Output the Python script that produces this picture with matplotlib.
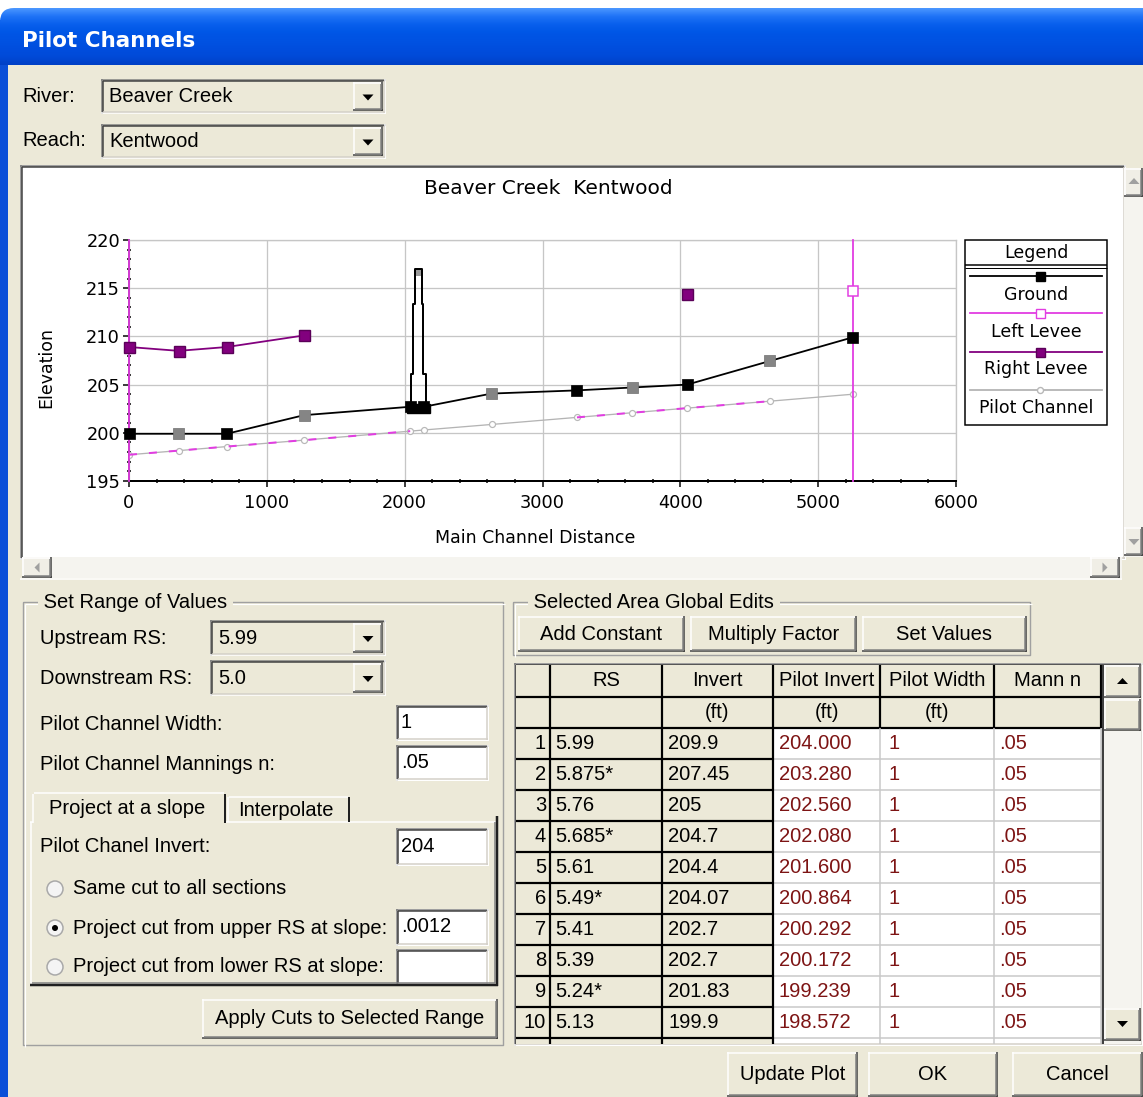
import numpy as np
import matplotlib
matplotlib.use("Agg")
import matplotlib.pyplot as plt
from matplotlib.patches import Rectangle, Polygon, Circle, FancyBboxPatch
from matplotlib.ticker import MultipleLocator

# ---------------- data ----------------
rs_names = ["5.99", "5.875*", "5.76", "5.685*", "5.61", "5.49*", "5.41", "5.39",
            "5.24*", "5.13", "5.06*", "5.0"]
main_channel_distance = [5250, 4650, 4050, 3650, 3250, 2630, 2140, 2040, 1270, 710, 360, 0]
invert_ft = [209.9, 207.45, 205.0, 204.7, 204.4, 204.07, 202.7, 202.7, 201.83, 199.9, 199.9, 199.9]
invert_text = ["209.9", "207.45", "205", "204.7", "204.4", "204.07", "202.7", "202.7",
               "201.83", "199.9", "199.9", "199.9"]
pilot_invert_ft = [204.000, 203.280, 202.560, 202.080, 201.600, 200.864, 200.292, 200.172,
                   199.239, 198.572, 198.152, 197.720]
pilot_width_ft = ["1", "1", "1", "1", "1", "1", "1", "1", "1", "1", "1", "1"]
mann_n = [".05", ".05", ".05", ".05", ".05", ".05", ".05", ".05", ".05", ".05", ".05", ".05"]
nan = np.nan
right_levee = [nan, nan, 214.4, nan, nan, nan, nan, nan, 210.1, 208.9, 208.5, 208.9]
left_levee = [214.7, nan, nan, nan, nan, nan, nan, nan, nan, nan, nan, nan]
left_levee_stations = [0, 5250]
pilot_dash_ranges = [(0, 2040), (3250, 4650)]
bridge_block_x = [2020, 2181]
bridge_block_y = [202.1, 203.0]
bridge_x = [2043, 2043, 2060, 2060, 2077, 2077, 2125, 2125, 2133, 2133, 2152, 2152]
bridge_y = [203.0, 206.1, 206.1, 213.4, 213.4, 217.0, 217.0, 213.4, 213.4, 206.1, 206.1, 203.0]
bridge_cap_y = [216.3, 217.0]
x_ticks = [0, 1000, 2000, 3000, 4000, 5000, 6000]
y_ticks = [195, 200, 205, 210, 215, 220]
table_headers = ["RS", "Invert", "Pilot Invert", "Pilot Width", "Mann n"]
table_units = ["", "(ft)", "(ft)", "(ft)", ""]
legend_names = ["Ground", "Left Levee", "Right Levee", "Pilot Channel"]

# ---------------- figure / canvas ----------------
W, H = 1143, 1097
FACE = "#ECE9D8"
FS = 14.5
fig = plt.figure(figsize=(W / 100, H / 100), dpi=100, facecolor="white")
bg = fig.add_axes([0, 0, 1, 1])
bg.set_xlim(0, W)
bg.set_ylim(H, 0)
bg.axis("off")


def px(v):
    return v * 0.72


def rect(x0, y0, x1, y1, fc, ec="none", lw=0, z=1):
    bg.add_patch(Rectangle((x0, y0), x1 - x0, y1 - y0, facecolor=fc, edgecolor=ec,
                           linewidth=px(lw), zorder=z))


def seg(xs, ys, c, lw=1.0, z=3):
    bg.plot(xs, ys, color=c, lw=px(lw), zorder=z, solid_capstyle="butt")


def sunken(x0, y0, x1, y1, fc="white", z=2):
    rect(x0, y0, x1, y1, fc, z=z)
    seg([x0, x1], [y0 + 0.75, y0 + 0.75], "#808080", 1.5, z + .1)
    seg([x0 + 0.75, x0 + 0.75], [y0, y1], "#808080", 1.5, z + .1)
    seg([x0 + 1.5, x1 - 1.5], [y0 + 2.25, y0 + 2.25], "#404040", 1.5, z + .1)
    seg([x0 + 2.25, x0 + 2.25], [y0 + 1.5, y1 - 1.5], "#404040", 1.5, z + .1)
    seg([x0, x1], [y1 - 0.75, y1 - 0.75], "#FFFFFF", 1.5, z + .1)
    seg([x1 - 0.75, x1 - 0.75], [y0, y1], "#FFFFFF", 1.5, z + .1)
    seg([x0 + 1.5, x1 - 1.5], [y1 - 2.25, y1 - 2.25], "#D4D0C8", 1.5, z + .1)
    seg([x1 - 2.25, x1 - 2.25], [y0 + 1.5, y1 - 1.5], "#D4D0C8", 1.5, z + .1)


def raised(x0, y0, x1, y1, fc=FACE, z=2):
    rect(x0, y0, x1, y1, fc, z=z)
    seg([x0, x1], [y0 + 0.75, y0 + 0.75], "#FFFFFF", 1.5, z + .1)
    seg([x0 + 0.75, x0 + 0.75], [y0, y1], "#FFFFFF", 1.5, z + .1)
    seg([x0, x1], [y1 - 0.75, y1 - 0.75], "#404040", 1.5, z + .1)
    seg([x1 - 0.75, x1 - 0.75], [y0, y1], "#404040", 1.5, z + .1)
    seg([x0 + 1.5, x1 - 1.5], [y1 - 2.25, y1 - 2.25], "#808080", 1.5, z + .1)
    seg([x1 - 2.25, x1 - 2.25], [y0 + 1.5, y1 - 1.5], "#808080", 1.5, z + .1)


def label(x, y, s, size=FS, ha="left", color="#000000", z=6, family="Liberation Sans", **kw):
    return bg.text(x, y, s, fontsize=size, ha=ha, va="center", color=color, family=family,
                   zorder=z, **kw)


def tri(cx, cy, up=False, w=11, h=6, c="black", z=6):
    if up:
        pts = [(cx - w / 2, cy + h / 2), (cx + w / 2, cy + h / 2), (cx, cy - h / 2)]
    else:
        pts = [(cx - w / 2, cy - h / 2), (cx + w / 2, cy - h / 2), (cx, cy + h / 2)]
    bg.add_patch(Polygon(pts, closed=True, facecolor=c, edgecolor="none", zorder=z))


def tri_lr(cx, cy, right=True, w=5, h=10, c="black", z=6):
    if right:
        pts = [(cx - w / 2, cy - h / 2), (cx - w / 2, cy + h / 2), (cx + w / 2, cy)]
    else:
        pts = [(cx + w / 2, cy - h / 2), (cx + w / 2, cy + h / 2), (cx - w / 2, cy)]
    bg.add_patch(Polygon(pts, closed=True, facecolor=c, edgecolor="none", zorder=z))


def combo(x0, y0, x1, y1, text):
    sunken(x0, y0, x1, y1, fc=FACE)
    raised(x1 - 33, y0 + 3, x1 - 3, y1 - 3)
    tri((x1 - 33 + x1 - 3) / 2, (y0 + y1) / 2 + 1)
    label(x0 + 8, (y0 + y1) / 2, text)


def button(x0, y0, x1, y1, text):
    raised(x0, y0, x1, y1)
    label((x0 + x1) / 2, (y0 + y1) / 2, text, ha="center")


def group(x0, y0, x1, y1, title):
    seg([x0, x1, x1, x0, x0], [y0, y0, y1, y1, y0], "#A0A0A0", 1.4, 2)
    seg([x0 + 1.5, x1 + 1.5], [y0 + 1.5, y0 + 1.5], "#FFFFFF", 1.2, 2)
    seg([x0 + 1.5, x0 + 1.5], [y0 + 1.5, y1 + 1.5], "#FFFFFF", 1.2, 2)
    label(x0 + 15, y0, " " + title + " ", bbox=dict(facecolor=FACE, edgecolor="none", pad=0))


# ---------------- window chrome ----------------
rect(8, 20, W, H, FACE, z=0.5)
rect(0, 20, 8, H, "#0A4FD8", z=0.6)
grad_stops = np.array([[0x4A, 0x96, 0xFF], [0x1E, 0x72, 0xF6], [0x08, 0x5F, 0xEC],
                       [0x00, 0x56, 0xE6], [0x00, 0x52, 0xE2], [0x00, 0x4E, 0xDE],
                       [0x00, 0x4A, 0xD8], [0x00, 0x40, 0xC6]]) / 255.0
t = np.linspace(0, 1, 60)
grad = np.stack([np.interp(t, np.linspace(0, 1, len(grad_stops)), grad_stops[:, k]) for k in range(3)], axis=-1)
im = bg.imshow(grad[:, None, :], extent=[0, W, 65, 8], aspect="auto", zorder=1, interpolation="bilinear")
clip = FancyBboxPatch((0, 8), W + 40, 150, boxstyle="round,pad=0,rounding_size=14",
                      transform=bg.transData, facecolor="none", edgecolor="none")
im.set_clip_path(clip)
bg.set_xlim(0, W)
bg.set_ylim(H, 0)
label(22, 41, "Pilot Channels", size=15.5, color="white", weight="bold", family="DejaVu Sans")

# River / Reach
label(22, 96, "River:")
combo(101, 79, 386, 114, "Beaver Creek")
label(22, 141, "Reach:")
combo(101, 124, 386, 159, "Kentwood")

# chart panel
sunken(20, 165, 1126, 560, fc="white", z=1)
# vertical scrollbar
rect(1124, 168, W, 557, "#F5F4EF", z=2)
raised(1124, 168, W, 197, fc="#F0EEE6")
tri(1134, 181, up=True, c="#A0A0A0")
raised(1124, 527, W, 556, fc="#F0EEE6")
tri(1134, 542, up=False, c="#A0A0A0")
# horizontal scrollbar
rect(22, 557, 1122, 578, "#F5F4EF", z=2)
raised(22, 557, 52, 578, fc="#F0EEE6")
tri_lr(37, 567.5, right=False, c="#A0A0A0")
raised(1090, 557, 1120, 578, fc="#F0EEE6")
tri_lr(1105, 567.5, right=True, c="#A0A0A0")
seg([20, 1122], [579, 579], "#FFFFFF", 1.5, 3)

# ---------------- chart ----------------
ax = fig.add_axes([129 / W, 1 - 481 / H, (956 - 129) / W, (481 - 240) / H])
ax.set_facecolor("white")
ax.set_xlim(x_ticks[0], x_ticks[-1])
ax.set_ylim(y_ticks[0], y_ticks[-1])
ax.set_xticks(x_ticks)
ax.set_yticks(y_ticks)
ax.xaxis.set_minor_locator(MultipleLocator(200))
ax.yaxis.set_minor_locator(MultipleLocator(1))
ax.grid(True, which="major", color="#C6C6C6", lw=px(1.3))
ax.set_axisbelow(True)
for s in ["top", "right"]:
    ax.spines[s].set_color("#C6C6C6")
    ax.spines[s].set_linewidth(px(1.3))
ax.spines["bottom"].set_color("black")
ax.spines["bottom"].set_linewidth(px(2))
ax.spines["left"].set_color("black")
ax.spines["left"].set_linewidth(px(1.5))
ax.tick_params(axis="both", which="major", direction="out", length=px(6), width=px(1.5),
               labelsize=12.8, colors="black")
ax.tick_params(axis="x", which="major", pad=px(7))
ax.tick_params(axis="y", which="major", pad=px(3))
ax.tick_params(axis="both", which="minor", direction="inout", length=px(5), width=px(1.5))
for lab in ax.get_xticklabels() + ax.get_yticklabels():
    lab.set_family("DejaVu Sans")

order = np.argsort(main_channel_distance)
d = np.array(main_channel_distance, dtype=float)[order]
g = np.array(invert_ft)[order]
p = np.array(pilot_invert_ft)[order]
rl = np.array(right_levee, dtype=float)[order]
ll = np.array(left_levee, dtype=float)[order]
interp = np.array([n.endswith("*") for n in rs_names])[order]

C_GROUND = "black"
C_LEFT = "#E23CE2"
C_RIGHT = "#82007E"
C_PILOT = "#B4B4B4"

# pilot channel
ax.plot(d, p, color=C_PILOT, lw=px(1.3), marker="o", ms=px(6), mfc="white", mec="#B8B8B8",
        mew=px(1.2), zorder=3)
for a, b in pilot_dash_ranges:
    m = (d >= a) & (d <= b)
    ax.plot(d[m], p[m], color=C_LEFT, lw=px(2), ls=(0, (4, 6)), zorder=3.5)

# left levee
for s in left_levee_stations:
    ax.axvline(s, color=C_LEFT, lw=px(1.8), zorder=4, clip_on=False)
ax.plot(d, ll, ls="none", marker="s", ms=px(10), mfc="white", mec=C_LEFT, mew=px(1.5), zorder=6)

# right levee
ax.plot(d, rl, color=C_RIGHT, lw=px(1.8), marker="s", ms=px(11), mfc=C_RIGHT, mec="#5A0058",
        zorder=5, clip_on=False)

# ground
ax.plot(d, g, color=C_GROUND, lw=px(1.8), zorder=5)
ax.scatter(d, g, marker="s", s=px(11) ** 2, c=np.where(interp, "#858585", "black"),
           edgecolors=np.where(interp, "#707070", "black"), linewidths=0.5, zorder=6, clip_on=False)

# bridge
ax.add_patch(Rectangle((bridge_block_x[0], bridge_block_y[0]), bridge_block_x[1] - bridge_block_x[0],
                       bridge_block_y[1] - bridge_block_y[0], facecolor="black", edgecolor="black",
                       zorder=7))
ax.add_patch(Rectangle((bridge_x[4], bridge_cap_y[0]), bridge_x[6] - bridge_x[4],
                       bridge_cap_y[1] - bridge_cap_y[0], facecolor="#9A9A9A", edgecolor="none",
                       zorder=6))
ax.plot(bridge_x, bridge_y, color="black", lw=px(2), zorder=7)

# chart titles
label(548, 188, "Beaver Creek  Kentwood", size=14.5, ha="center", family="DejaVu Sans")
label(535, 538, "Main Channel Distance", size=12.5, ha="center", family="DejaVu Sans")
label(46, 367, "Elevation", size=12.5, ha="center", family="DejaVu Sans", rotation=90)

# legend (drawn in the chart panel)
lx0, lx1, ly0, ly1 = 965, 1107, 240, 425
rect(lx0, ly0, lx1, ly1, "white", ec="black", lw=1.5, z=4)
seg([lx0, lx1], [265, 265], "black", 1.5, 5)
seg([lx0, lx1], [268, 268], "black", 1.0, 5)
label((lx0 + lx1) / 2, 252.5, "Legend", size=12.5, ha="center", family="DejaVu Sans")
leg_styles = [
    dict(color=C_GROUND, marker="s", mfc="black", mec="black", ms=px(9)),
    dict(color=C_LEFT, marker="s", mfc="white", mec=C_LEFT, ms=px(9)),
    dict(color=C_RIGHT, marker="s", mfc=C_RIGHT, mec="#5A0058", ms=px(9)),
    dict(color=C_PILOT, marker="o", mfc="white", mec="#B8B8B8", ms=px(6)),
]
leg_line_y = [276, 313, 352, 390]
leg_text_y = [295, 332, 369, 408]
for name, st, yl, yt in zip(legend_names, leg_styles, leg_line_y, leg_text_y):
    bg.plot([lx0 + 5, lx1 - 5], [yl, yl], color=st["color"], lw=px(1.8), zorder=5)
    bg.plot([(lx0 + lx1) / 2 + 4], [yl], ls="none", marker=st["marker"], ms=st["ms"],
            mfc=st["mfc"], mec=st["mec"], zorder=6)
    label((lx0 + lx1) / 2, yt, name, size=12.5, ha="center", family="DejaVu Sans")

# ---------------- Set Range of Values ----------------
group(23, 602, 503, 1045, "Set Range of Values")
label(40, 638, "Upstream RS:")
combo(210, 620, 386, 656, rs_names[0])
label(40, 678, "Downstream RS:")
combo(210, 660, 386, 696, rs_names[-1])
label(40, 724, "Pilot Channel Width:")
sunken(396, 705, 489, 741)
label(401, 723, pilot_width_ft[0])
label(40, 765, "Pilot Channel Mannings n:")
sunken(396, 745, 489, 781)
label(401, 763, mann_n[0])

# tab control
rect(30, 822, 498, 986, FACE, z=1.5)
seg([30, 498], [822, 822], "#FFFFFF", 1.5, 3)
seg([30.75, 30.75], [822, 986], "#FFFFFF", 1.5, 3)
seg([497, 497], [816, 986], "#202020", 2.5, 3)
seg([30, 498], [985, 985], "#202020", 2.5, 3)
seg([494.5, 494.5], [822, 983], "#808080", 1.5, 3)
seg([32, 495], [982.5, 982.5], "#808080", 1.5, 3)
# tabs
rect(33, 792, 226, 823, FACE, z=3.2)
seg([33, 33], [794, 823], "#FFFFFF", 1.5, 3.3)
seg([34, 224], [792.75, 792.75], "#FFFFFF", 1.5, 3.3)
seg([225, 225], [794, 823], "#202020", 2.0, 3.3)
label(49, 809, "Project at a slope", z=7)
seg([228, 228], [797, 822], "#FFFFFF", 1.5, 3.3)
seg([229, 348], [796.75, 796.75], "#FFFFFF", 1.5, 3.3)
seg([349, 349], [797, 822], "#202020", 2.0, 3.3)
label(238, 811, "Interpolate", z=7)

label(40, 847, "Pilot Chanel Invert:")
sunken(396, 828, 489, 866)
label(401, 846, "204")
radio_y = [889, 928, 967]
radio_text = ["Same cut to all sections", "Project cut from upper RS at slope:",
              "Project cut from lower RS at slope:"]
for i, (yy, tx) in enumerate(zip(radio_y, radio_text)):
    bg.add_patch(Circle((55, yy), 8, facecolor="#F4F4F4", edgecolor="#A8A8A8", lw=px(1.5), zorder=5))
    if i == 1:
        bg.add_patch(Circle((55, yy), 3, facecolor="black", edgecolor="none", zorder=6))
    label(73, yy, tx)
sunken(396, 909, 489, 946)
label(401, 927, ".0012")
sunken(396, 949, 489, 986)
button(202, 999, 498, 1039, "Apply Cuts to Selected Range")

# ---------------- Selected Area Global Edits ----------------
group(513, 602, 1030, 655, "Selected Area Global Edits")
button(518, 616, 685, 652, "Add Constant")
button(690, 616, 857, 652, "Multiply Factor")
button(862, 616, 1027, 652, "Set Values")

# ---------------- table ----------------
tx0, ty0, tx1, ty1 = 514, 663, 1104, 1046
col_edges = [tx0 + 2, 550, 662, 773, 880, 994, 1101]
h1, h2, row_h = 697, 728, 31
rect(tx0, ty0, W, ty1, "white", z=1.5)
sunken(tx0, ty0, 1143, ty1, fc="white", z=1.5)
# beige areas
rect(col_edges[0], ty0 + 2, col_edges[3], ty1 - 2, FACE, z=2)
rect(col_edges[0], ty0 + 2, col_edges[-1], h2, FACE, z=2)
n_rows = 10
rows_y = [h2 + i * row_h for i in range(n_rows + 1)]
for yb in rows_y[1:]:
    seg([col_edges[0], col_edges[3]], [yb, yb], "black", 2.2, 3)
    seg([col_edges[3], col_edges[-1]], [yb, yb], "#C8C8C8", 1.5, 3)
seg([col_edges[0], col_edges[-1]], [h1, h1], "black", 2.2, 3)
seg([col_edges[0], col_edges[-1]], [h2, h2], "black", 2.2, 3)
for k, xe in enumerate(col_edges[1:]):
    if k < 3:
        seg([xe, xe], [ty0 + 2, ty1 - 2], "black", 2.2, 3.1)
    else:
        seg([xe, xe], [ty0 + 2, h2], "black", 2.2, 3.1)
        seg([xe, xe], [h2, ty1 - 2], "#C8C8C8", 1.5, 3.0)
seg([col_edges[-1] + 2, col_edges[-1] + 2], [ty0 + 2, ty1 - 2], "#404040", 2.2, 3.1)
for k, (hd, un) in enumerate(zip(table_headers, table_units)):
    cx = (col_edges[k + 1] + col_edges[k + 2]) / 2
    label(cx, (ty0 + h1) / 2 + 1, hd, ha="center")
    if un:
        label(cx, (h1 + h2) / 2, un, ha="center")
RED = "#7D1414"
for i in range(n_rows):
    cy = rows_y[i] + row_h / 2
    label(col_edges[1] - 4, cy, str(i + 1), ha="right")
    label(col_edges[1] + 5, cy, rs_names[i])
    label(col_edges[2] + 6, cy, invert_text[i])
    label(col_edges[3] + 6, cy, "%.3f" % pilot_invert_ft[i], color=RED)
    label(col_edges[4] + 8, cy, pilot_width_ft[i], color=RED)
    label(col_edges[5] + 5, cy, mann_n[i], color=RED)
# table scrollbar
rect(1104, 665, 1141, 1044, "#F5F4EF", z=3.5)
raised(1104, 665, 1141, 698, fc=FACE, z=3.6)
tri(1122.5, 681, up=True, c="black", z=7)
raised(1104, 699, 1141, 731, fc=FACE, z=3.6)
raised(1104, 1008, 1141, 1041, fc=FACE, z=3.6)
tri(1122.5, 1024, up=False, c="black", z=7)

# ---------------- bottom buttons ----------------
button(727, 1052, 858, 1097, "Update Plot")
button(868, 1052, 998, 1097, "OK")
button(1012, 1052, 1143, 1097, "Cancel")

fig.savefig("out.png", dpi=100, facecolor="white")
